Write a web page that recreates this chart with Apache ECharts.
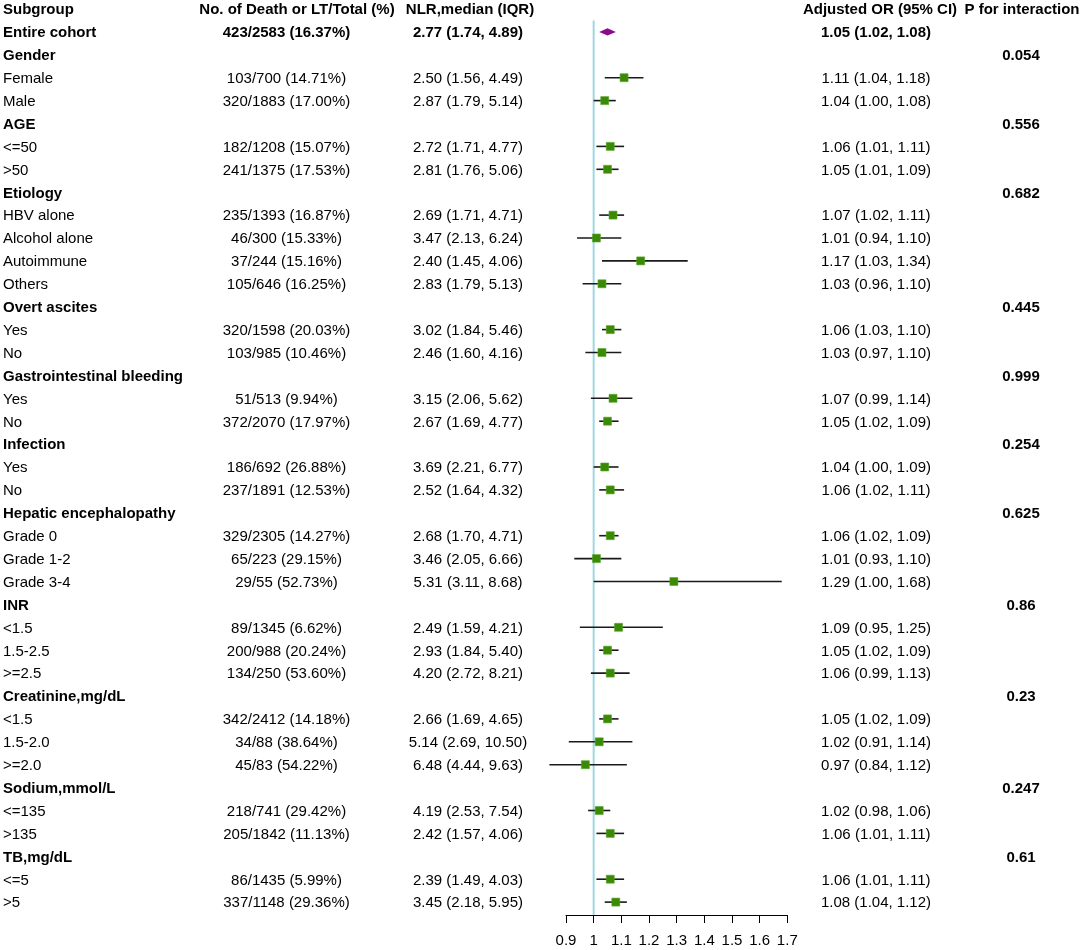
<!DOCTYPE html>
<html>
<head>
<meta charset="utf-8">
<title>Subgroup forest plot</title>
<script src="https://cdn.jsdelivr.net/npm/echarts@6/dist/echarts.min.js"></script>
<style>
  html, body { margin: 0; padding: 0; background: #fff; }
  #main { width: 1084px; height: 950px; }
</style>
</head>
<body>
<div id="main"></div>
<script>
// ---- data ----
var headers = ['Subgroup', 'No. of Death or LT/Total (%)', 'NLR,median (IQR)', 'Adjusted OR (95% CI)', 'P for interaction'];

var subgroups = [
  'Entire cohort',
  'Gender', 'Female', 'Male',
  'AGE', '<=50', '>50',
  'Etiology', 'HBV alone', 'Alcohol alone', 'Autoimmune', 'Others',
  'Overt ascites', 'Yes', 'No',
  'Gastrointestinal bleeding', 'Yes', 'No',
  'Infection', 'Yes', 'No',
  'Hepatic encephalopathy', 'Grade 0', 'Grade 1-2', 'Grade 3-4',
  'INR', '<1.5', '1.5-2.5', '>=2.5',
  'Creatinine,mg/dL', '<1.5', '1.5-2.0', '>=2.0',
  'Sodium,mmol/L', '<=135', '>135',
  'TB,mg/dL', '<=5', '>5'
];

var deathTotal = [
  '423/2583 (16.37%)',
  '', '103/700 (14.71%)', '320/1883 (17.00%)',
  '', '182/1208 (15.07%)', '241/1375 (17.53%)',
  '', '235/1393 (16.87%)', '46/300 (15.33%)', '37/244 (15.16%)', '105/646 (16.25%)',
  '', '320/1598 (20.03%)', '103/985 (10.46%)',
  '', '51/513 (9.94%)', '372/2070 (17.97%)',
  '', '186/692 (26.88%)', '237/1891 (12.53%)',
  '', '329/2305 (14.27%)', '65/223 (29.15%)', '29/55 (52.73%)',
  '', '89/1345 (6.62%)', '200/988 (20.24%)', '134/250 (53.60%)',
  '', '342/2412 (14.18%)', '34/88 (38.64%)', '45/83 (54.22%)',
  '', '218/741 (29.42%)', '205/1842 (11.13%)',
  '', '86/1435 (5.99%)', '337/1148 (29.36%)'
];

var nlrMedian = [
  '2.77 (1.74, 4.89)',
  '', '2.50 (1.56, 4.49)', '2.87 (1.79, 5.14)',
  '', '2.72 (1.71, 4.77)', '2.81 (1.76, 5.06)',
  '', '2.69 (1.71, 4.71)', '3.47 (2.13, 6.24)', '2.40 (1.45, 4.06)', '2.83 (1.79, 5.13)',
  '', '3.02 (1.84, 5.46)', '2.46 (1.60, 4.16)',
  '', '3.15 (2.06, 5.62)', '2.67 (1.69, 4.77)',
  '', '3.69 (2.21, 6.77)', '2.52 (1.64, 4.32)',
  '', '2.68 (1.70, 4.71)', '3.46 (2.05, 6.66)', '5.31 (3.11, 8.68)',
  '', '2.49 (1.59, 4.21)', '2.93 (1.84, 5.40)', '4.20 (2.72, 8.21)',
  '', '2.66 (1.69, 4.65)', '5.14 (2.69, 10.50)', '6.48 (4.44, 9.63)',
  '', '4.19 (2.53, 7.54)', '2.42 (1.57, 4.06)',
  '', '2.39 (1.49, 4.03)', '3.45 (2.18, 5.95)'
];

var orEst = [
  1.05,
  null, 1.11, 1.04,
  null, 1.06, 1.05,
  null, 1.07, 1.01, 1.17, 1.03,
  null, 1.06, 1.03,
  null, 1.07, 1.05,
  null, 1.04, 1.06,
  null, 1.06, 1.01, 1.29,
  null, 1.09, 1.05, 1.06,
  null, 1.05, 1.02, 0.97,
  null, 1.02, 1.06,
  null, 1.06, 1.08
];
var orLow = [
  1.02,
  null, 1.04, 1.00,
  null, 1.01, 1.01,
  null, 1.02, 0.94, 1.03, 0.96,
  null, 1.03, 0.97,
  null, 0.99, 1.02,
  null, 1.00, 1.02,
  null, 1.02, 0.93, 1.00,
  null, 0.95, 1.02, 0.99,
  null, 1.02, 0.91, 0.84,
  null, 0.98, 1.01,
  null, 1.01, 1.04
];
var orHigh = [
  1.08,
  null, 1.18, 1.08,
  null, 1.11, 1.09,
  null, 1.11, 1.10, 1.34, 1.10,
  null, 1.10, 1.10,
  null, 1.14, 1.09,
  null, 1.09, 1.11,
  null, 1.09, 1.10, 1.68,
  null, 1.25, 1.09, 1.13,
  null, 1.09, 1.14, 1.12,
  null, 1.06, 1.11,
  null, 1.11, 1.12
];

var pInteraction = [
  '',
  '0.054', '', '',
  '0.556', '', '',
  '0.682', '', '', '', '',
  '0.445', '', '',
  '0.999', '', '',
  '0.254', '', '',
  '0.625', '', '', '',
  '0.86', '', '', '',
  '0.23', '', '', '',
  '0.247', '', '',
  '0.61', '', ''
];

var axisMin = 0.9, axisMax = 1.7, axisStep = 0.1, refValue = 1;

// ---- layout ----
var ROW_TOP = 9, ROW_H = 22.9, LAST_ROW = subgroups.length;   // header is row 0
var AXIS_Y = 915;
var TEXT_NUDGE = 1.2;   // canvas 'middle' sits a touch high
var FONT = '"Liberation Sans", Arial, Helvetica, sans-serif';

var orText = orEst.map(function (v, i) {
  return v == null ? '' : v.toFixed(2) + ' (' + orLow[i].toFixed(2) + ', ' + orHigh[i].toFixed(2) + ')';
});
var boldRow = deathTotal.map(function (d, i) { return i === 0 || d === ''; });

function textColumn(texts, bolds, anchorX, align, withHeader, headerX) {
  var items = [];
  var txt = [], bld = [];
  if (withHeader != null) {
    items.push([headerX, 0]); txt.push(withHeader); bld.push(true);
  }
  texts.forEach(function (t, i) {
    if (t === '') return;
    items.push([anchorX, i + 1]); txt.push(t); bld.push(bolds[i]);
  });
  return {
    type: 'custom',
    xAxisIndex: 0,
    yAxisIndex: 0,
    clip: false,
    silent: true,
    data: items,
    renderItem: function (params, api) {
      var p = api.coord([api.value(0), api.value(1)]);
      var k = params.dataIndex;
      return {
        type: 'text',
        x: p[0],
        y: p[1] + TEXT_NUDGE,
        style: {
          text: txt[k],
          font: (bld[k] ? 'bold ' : '') + '15px ' + FONT,
          fill: '#000',
          align: align,
          verticalAlign: 'middle'
        }
      };
    }
  };
}

var forestData = [];
orEst.forEach(function (v, i) {
  if (v != null) forestData.push([i + 1, v, orLow[i], orHigh[i]]);
});

var chart = echarts.init(document.getElementById('main'));
chart.setOption({
  backgroundColor: '#fff',
  animation: false,
  grid: [
    { left: 0, top: ROW_TOP, width: 1084, height: ROW_H * (LAST_ROW) },
    { left: 566, top: ROW_TOP, width: 221.3, height: AXIS_Y - ROW_TOP }
  ],
  xAxis: [
    { gridIndex: 0, type: 'value', min: 0, max: 1084, show: false },
    {
      gridIndex: 1, type: 'value', position: 'bottom',
      min: axisMin, max: axisMax, interval: axisStep,
      axisLine: { show: true, onZero: false, lineStyle: { color: '#000', width: 1 } },
      axisTick: { show: true, length: 8, lineStyle: { color: '#000', width: 1 } },
      axisLabel: { color: '#000', fontSize: 15, fontFamily: FONT, margin: 18 },
      splitLine: { show: false }
    }
  ],
  yAxis: [
    { gridIndex: 0, type: 'value', min: 0, max: LAST_ROW, inverse: true, show: false },
    { gridIndex: 1, type: 'value', min: 0, max: (AXIS_Y - ROW_TOP) / ROW_H, inverse: true, show: false }
  ],
  series: [
    textColumn(subgroups, boldRow, 3, 'left', headers[0], 3),
    textColumn(deathTotal, boldRow, 286.5, 'center', headers[1], 297),
    textColumn(nlrMedian, boldRow, 468, 'center', headers[2], 470),
    textColumn(orText, boldRow, 876, 'center', headers[3], 880),
    textColumn(pInteraction, pInteraction.map(function () { return true; }), 1021, 'center', headers[4], 1022),
    {
      type: 'line',
      xAxisIndex: 1,
      yAxisIndex: 1,
      symbol: 'none',
      silent: true,
      z: 1,
      lineStyle: { color: '#9fd6df', width: 2 },
      data: [[refValue, 0.5], [refValue, (AXIS_Y - ROW_TOP) / ROW_H]]
    },
    {
      type: 'custom',
      xAxisIndex: 1,
      yAxisIndex: 1,
      clip: false,
      z: 3,
      data: forestData,
      renderItem: function (params, api) {
        var row = api.value(0);
        var pe = api.coord([api.value(1), row]);
        var pl = api.coord([api.value(2), row]);
        var ph = api.coord([api.value(3), row]);
        if (row === 1) {
          return {
            type: 'polygon',
            shape: { points: [[pl[0], pe[1]], [pe[0], pe[1] - 3.6], [ph[0], pe[1]], [pe[0], pe[1] + 3.6]] },
            style: { fill: '#8b0a8b' }
          };
        }
        return {
          type: 'group',
          children: [
            {
              type: 'line',
              shape: { x1: pl[0], y1: pe[1], x2: ph[0], y2: pe[1] },
              style: { stroke: '#1a1a1a', lineWidth: 1.6 }
            },
            {
              type: 'rect',
              shape: { x: pe[0] - 4, y: pe[1] - 4, width: 8, height: 8 },
              style: { fill: '#3b8a06', stroke: '#56a82a', lineWidth: 0.6 }
            }
          ]
        };
      }
    }
  ]
});
</script>
</body>
</html>
